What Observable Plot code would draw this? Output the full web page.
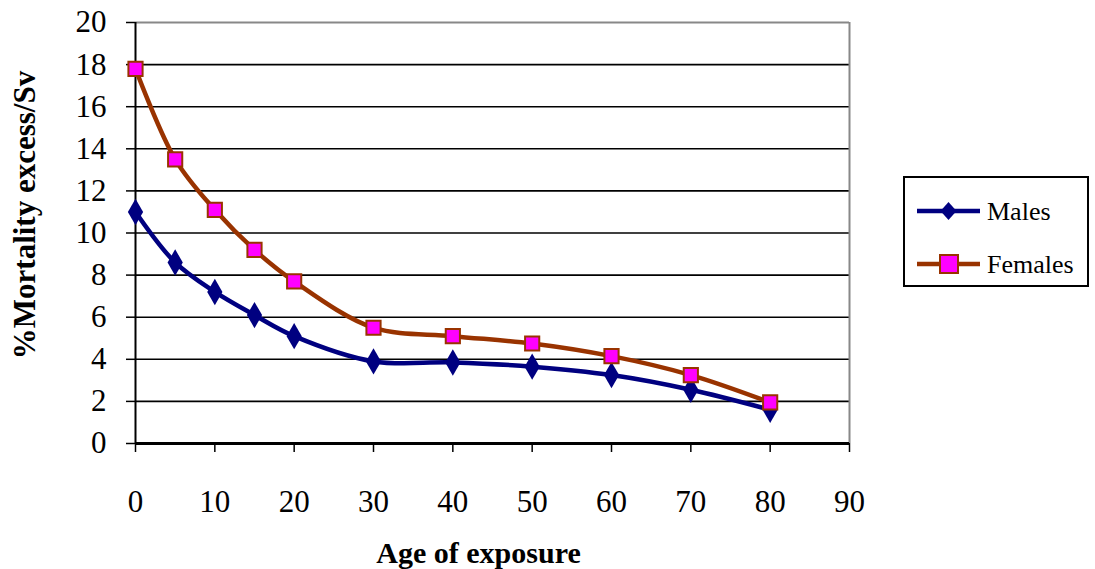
<!DOCTYPE html>
<html><head><meta charset="utf-8">
<script src="https://cdn.jsdelivr.net/npm/d3@7"></script>
<script src="https://cdn.jsdelivr.net/npm/@observablehq/plot@0.6"></script>
<style>
html,body{margin:0;padding:0;background:#fff;}
#wrap{position:relative;width:1095px;height:569px;overflow:hidden;}
#legend{position:absolute;left:903px;top:176px;width:186px;height:111px;border:2px solid #000;box-sizing:border-box;background:#fff;}
</style>
</head><body>
<div id="wrap"><div id="chart"></div>
<div id="legend"></div></div>
<script>
const ages = [0, 5, 10, 15, 20, 30, 40, 50, 60, 70, 80];
const males = [11.0, 8.6, 7.2, 6.1, 5.1, 3.9, 3.85, 3.65, 3.25, 2.55, 1.6];
const females = [17.8, 13.5, 11.1, 9.2, 7.7, 5.5, 5.1, 4.75, 4.15, 3.25, 1.95];
const xTicks = [0, 10, 20, 30, 40, 50, 60, 70, 80, 90];
const yTicks = [0, 2, 4, 6, 8, 10, 12, 14, 16, 18, 20];
const seriesNames = ["Males", "Females"];
const xTitle = "Age of exposure";
const yTitle = "%Mortality excess/Sv";

const maleData = ages.map((a, i) => ({age: a, v: males[i]}));
const femaleData = ages.map((a, i) => ({age: a, v: females[i]}));

const navy = "#000080", brown = "#993300", magenta = "#ff00ff";
const font = "'Liberation Serif', 'Times New Roman', serif";

const chart = Plot.plot({
  width: 1095, height: 569,
  marginLeft: 135, marginRight: 246, marginTop: 22, marginBottom: 126,
  style: {fontFamily: font, fontSize: "31px", color: "#000", background: "#fff", overflow: "visible"},
  x: {domain: [0, 90], ticks: xTicks},
  y: {domain: [0, 20], ticks: yTicks},
  marks: [
    Plot.ruleY(yTicks.filter(d => d > 0 && d < 20), {stroke: "#000", strokeWidth: 1.6}),
    Plot.ruleY([20], {stroke: "#888", strokeWidth: 2}),
    Plot.ruleX([90], {stroke: "#888", strokeWidth: 2}),
    Plot.axisY({ticks: yTicks, tickSize: 9, tickPadding: 20, tickFormat: d => String(d), label: null, strokeWidth: 1.5}),
    Plot.axisX({ticks: xTicks, tickSize: 9, tickPadding: 37, tickFormat: d => String(d), label: null, strokeWidth: 1.5}),
    Plot.ruleX([0], {stroke: "#000", strokeWidth: 2}),
    Plot.ruleY([0], {stroke: "#000", strokeWidth: 3}),
    Plot.line(femaleData, {x: "age", y: "v", stroke: brown, strokeWidth: 4.5, curve: "catmull-rom"}),
    Plot.line(maleData, {x: "age", y: "v", stroke: navy, strokeWidth: 4.5, curve: "catmull-rom"}),
    Plot.dot(maleData, {x: "age", y: "v", symbol: "diamond", fill: navy, r: 8}),
    Plot.dot(femaleData, {x: "age", y: "v", symbol: "square", fill: magenta, stroke: brown, strokeWidth: 2, r: 8}),
    Plot.text([xTitle], {frameAnchor: "bottom", dx: -14, dy: 110, text: d => d, fontWeight: "bold", fontSize: 30, lineAnchor: "middle", textAnchor: "middle"}),
    Plot.text([yTitle], {frameAnchor: "left", dx: -110, dy: -18, rotate: -90, text: d => d, fontWeight: "bold", fontSize: 31, lineAnchor: "middle", textAnchor: "middle", style: "letter-spacing:3px"})
  ]
});
document.getElementById("chart").appendChild(chart);

// legend
const lg = d3.select("#legend").append("svg").attr("width", 182).attr("height", 107)
  .style("font-family", font).style("font-size", "26px");
const rows = [
  {name: seriesNames[0], y: 33, color: navy, sym: "diamond"},
  {name: seriesNames[1], y: 86, color: brown, sym: "square"}
];
rows.forEach(r => {
  lg.append("line").attr("x1", 12).attr("x2", 75).attr("y1", r.y).attr("y2", r.y)
    .attr("stroke", r.color).attr("stroke-width", 4.5);
  if (r.sym === "diamond") {
    lg.append("path").attr("d", `M43.5,${r.y-9}L51.5,${r.y}L43.5,${r.y+9}L35.5,${r.y}Z`).attr("fill", navy);
  } else {
    lg.append("rect").attr("x", 35).attr("y", r.y - 9).attr("width", 18).attr("height", 18)
      .attr("fill", magenta).attr("stroke", brown).attr("stroke-width", 2);
  }
  lg.append("text").attr("x", 82).attr("y", r.y).attr("dy", "0.35em").text(r.name);
});
</script>
</body></html>
